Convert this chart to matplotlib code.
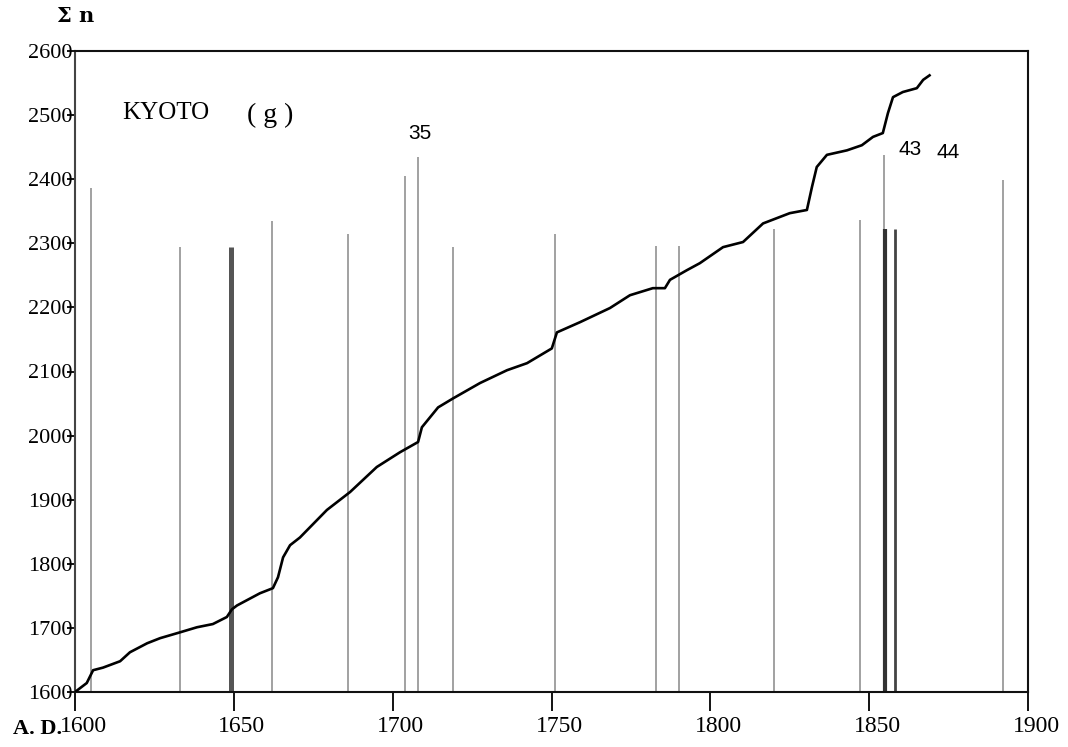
import matplotlib
matplotlib.use("Agg")
import matplotlib.pyplot as plt
import matplotlib.transforms as mtransforms

# ---- data -------------------------------------------------------------
curve_years = [1600, 1603.7, 1605.7, 1608.8, 1614.2, 1617.3, 1622.7, 1626.8, 1633,
               1638.4, 1643.4, 1647.8, 1649.4, 1651, 1658.2, 1662.3, 1663.9, 1665.5,
               1667.7, 1670.8, 1679.3, 1686.6, 1695, 1702.3, 1708, 1709.2, 1714.3,
               1719, 1727.5, 1736, 1742.3, 1750.1, 1751.7, 1759, 1768.4, 1774.7,
               1781.9, 1785.7, 1787.3, 1792.6, 1796.7, 1804, 1810.3, 1816.6, 1825,
               1830.4, 1832, 1833.5, 1836.7, 1843, 1847.7, 1851.2, 1854.3, 1855.9,
               1857.5, 1860.6, 1865, 1867, 1869]
curve_sum = [1600, 1614, 1634, 1638, 1648, 1662, 1676, 1684, 1693,
             1701, 1706, 1717, 1729, 1735, 1754, 1762, 1779, 1810,
             1829, 1841, 1884, 1912, 1951, 1974, 1990, 2013, 2044,
             2058, 2082, 2102, 2113, 2136, 2161, 2177, 2199, 2219,
             2230, 2230, 2243, 2258, 2269, 2294, 2302, 2331, 2347,
             2352, 2388, 2419, 2438, 2445, 2453, 2466, 2472, 2503,
             2528, 2536, 2542, 2555, 2562]

event_years = [1605, 1633, 1649, 1662, 1686, 1704, 1708, 1719, 1751, 1783,
               1790, 1820, 1847, 1854.6, 1855, 1858, 1892]
event_tops = [2386, 2294, 2294, 2335, 2314, 2405, 2435, 2295, 2315, 2296,
              2296, 2322, 2336, 2438, 2322, 2322, 2398]

event_labels = ["35", "43", "44"]
event_label_years = [1708.5, 1862.8, 1874.8]
event_label_values = [2472, 2446, 2442]

x_ticks = [1600, 1650, 1700, 1750, 1800, 1850, 1900]
y_ticks = list(range(1600, 2601, 100))

# ---- styling ----------------------------------------------------------
serif = "Liberation Serif"
heavy = {1649: (3.6, "#555555"), 1855: (3.0, "#333333"), 1858: (2.0, "#444444")}

fig = plt.figure(figsize=(10.68, 7.47), dpi=100)
ax = fig.add_axes([75 / 1068, 1 - 692 / 747, (1028 - 75) / 1068, (692 - 51) / 747])

for yr, top in zip(event_years, event_tops):
    lw, col = heavy.get(yr, (1.3, "#9a9a9a"))
    ax.vlines(yr, 1600, top, colors=col, linewidth=lw, zorder=2)

ax.plot(curve_years, curve_sum, color="black", linewidth=1.9, zorder=4,
        solid_joinstyle="round")

ax.set_xlim(1600, 1900)
ax.set_ylim(1600, 2600)

ax.set_xticks(x_ticks)
ax.set_yticks(y_ticks)
ax.tick_params(axis="x", direction="out", length=14, width=1.3, pad=3,
               labelsize=17, colors="black")
ax.tick_params(axis="y", direction="out", length=6, width=1.3, pad=-4,
               labelsize=16, colors="black")
for lab in ax.get_xticklabels() + ax.get_yticklabels():
    lab.set_fontfamily(serif)
offset = mtransforms.ScaledTranslation(8 / 100, 0, fig.dpi_scale_trans)
for lab in ax.get_xticklabels():
    lab.set_transform(lab.get_transform() + offset)

for s in ax.spines.values():
    s.set_linewidth(1.5)
    s.set_color("#111111")
ax.spines["left"].set_color("#444444")

ax.text(1628.6, 2503, "KYOTO", fontfamily=serif, fontsize=18,
        ha="center", va="center")
ax.text(1661.4, 2500, "( g )", fontfamily=serif, fontsize=20,
        ha="center", va="center")
for t, xv, yv in zip(event_labels, event_label_years, event_label_values):
    ax.text(xv, yv, t, fontfamily="Liberation Sans", fontsize=15,
            ha="center", va="center")

ax.text(1600.3, 2655, "Σ n", fontfamily="DejaVu Serif", fontsize=15,
        fontweight="bold", ha="center", va="center", clip_on=False)
ax.text(1595.8, 1543, "A. D.", fontfamily=serif, fontsize=16,
        fontweight="bold", ha="right", va="center", clip_on=False)

fig.savefig("out.png", dpi=100)
